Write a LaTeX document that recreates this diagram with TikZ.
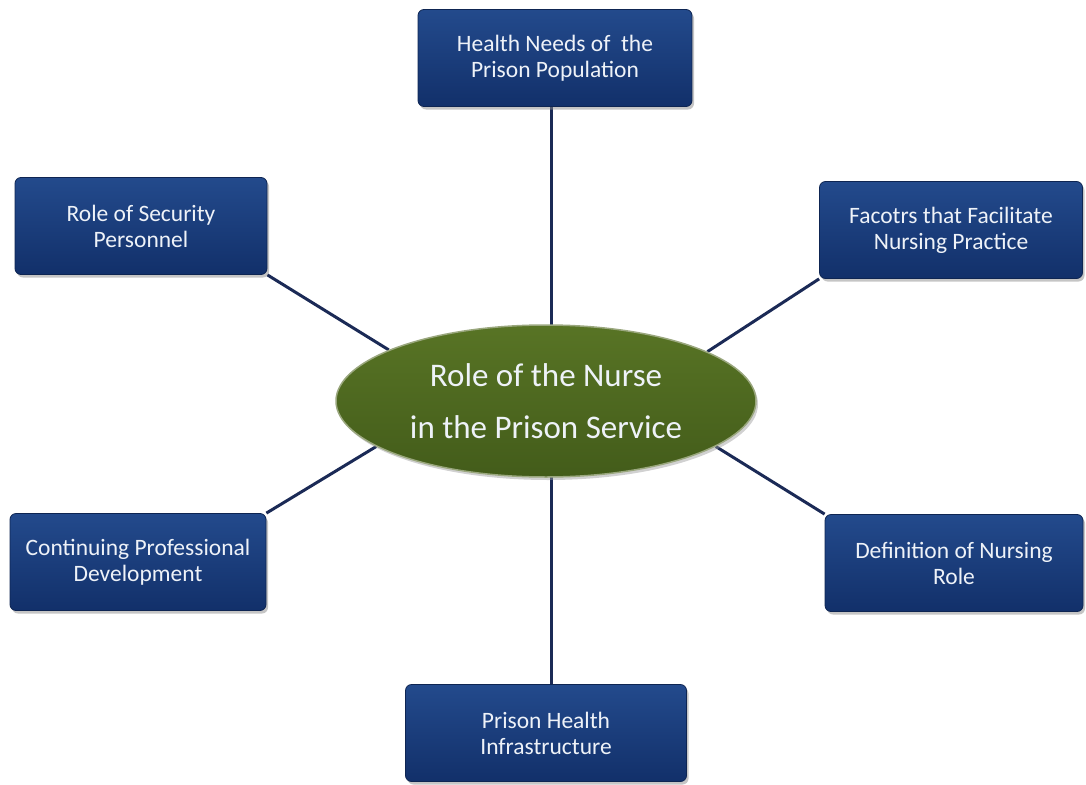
\documentclass[tikz,border=0pt]{standalone}
\usepackage{fontspec}
\setmainfont{Carlito}
\usetikzlibrary{shapes.geometric,shadows,backgrounds}

\definecolor{boxtop}{HTML}{234A8C}
\definecolor{boxbot}{HTML}{12306A}
\definecolor{boxline}{HTML}{0E2552}
\definecolor{hubtop}{HTML}{587425}
\definecolor{hubbot}{HTML}{435C1A}
\definecolor{hubrim}{HTML}{9AA77E}
\definecolor{spoke}{HTML}{1B2A56}
\definecolor{lbl}{HTML}{EEF2F8}

\begin{document}
\begin{tikzpicture}[
  x=1pt, y=-1pt,
  font=\fontsize{23.5}{26}\selectfont,
  topic/.style={rounded corners=6pt, draw=boxline, line width=0.8pt,
    top color=boxtop, bottom color=boxbot, text=lbl, align=center,
    minimum height=97pt, inner sep=4pt,
    drop shadow={shadow xshift=2pt, shadow yshift=-3pt, fill=black!45, opacity=0.5}},
  hub/.style={ellipse, draw=hubrim, line width=1.5pt, top color=hubtop, bottom color=hubbot,
    text=lbl, align=center, minimum width=420pt, minimum height=152pt, inner sep=0pt,
    font=\fontsize{33}{52}\selectfont,
    drop shadow={shadow xshift=2pt, shadow yshift=-3pt, fill=black!40, opacity=0.45}},
  link/.style={draw=spoke, line width=3pt},
]
\useasboundingbox (0,0) rectangle (1086,784);

% ---------- centre ----------
\node[hub] (nurse) at (546,401) {Role of the Nurse\\in the Prison Service};

% ---------- surrounding topics ----------
\node[topic, minimum width=274pt] (needs)    at (555,58)  {Health Needs of\ \ the\\Prison Population};
\node[topic, minimum width=252pt] (security) at (141,226) {Role of Security\\Personnel};
\node[topic, minimum width=263pt] (factors)  at (951,230) {Facotrs that Facilitate\\Nursing Practice};
\node[topic, minimum width=256pt] (cpd)      at (138,562) {Continuing Professional\\Development};
\node[topic, minimum width=258pt] (defn)     at (954,563) {Definition of Nursing\\Role};
\node[topic, minimum width=281pt] (infra)    at (546,733) {Prison Health\\Infrastructure};

% ---------- spokes (behind the ellipse) ----------
\begin{pgfonlayer}{background}
  \draw[link] (needs.south -| nurse.north) ++(5,0) coordinate (nt) -- (nt |- nurse.center);
  \draw[link] (infra.north -| nurse.south) ++(5,0) coordinate (nb) -- (nb |- nurse.center);
  \draw[link] (security.south east) -- (nurse.162);
  \draw[link] (factors.south west) -- (nurse.17);
  \draw[link] (cpd.north east) -- (nurse.195);
  \draw[link] (defn.north west) -- (nurse.-15);
\end{pgfonlayer}
\end{tikzpicture}
\end{document}
